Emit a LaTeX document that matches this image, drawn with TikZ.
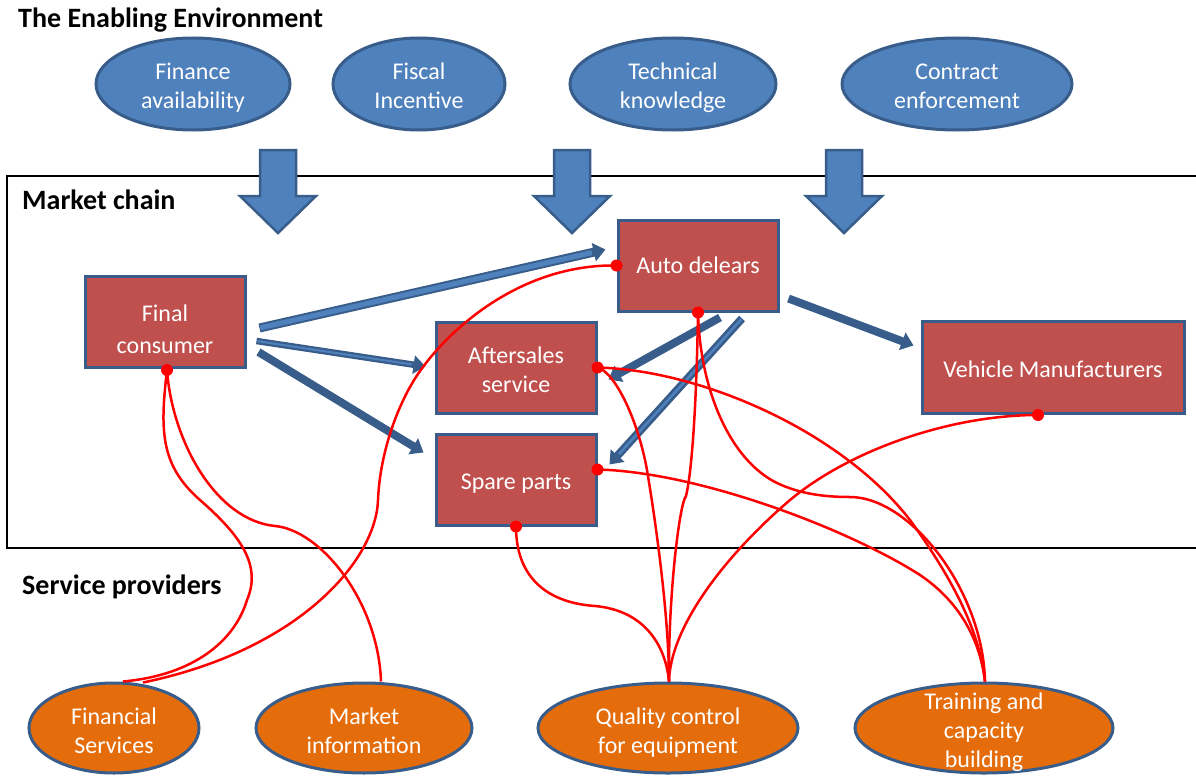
\documentclass[tikz,border=0pt]{standalone}
\usepackage{fontspec}
\setmainfont{Carlito}
\usetikzlibrary{arrows.meta,calc,shapes.geometric}
\definecolor{envblue}{HTML}{4F81BD}
\definecolor{edgeblue}{HTML}{385D8A}
\definecolor{chainred}{HTML}{C0504D}
\definecolor{provorange}{HTML}{E46C0A}
\definecolor{linkred}{HTML}{FF0000}
% fixed line height/depth so that every label sits at the same place in its shape
\newcommand\nodestrut{\rule[-7pt]{0pt}{33pt}}
% extra height on the first line of two-line labels
\newcommand\toppad{\rule{0pt}{27pt}}

\begin{document}
\begin{tikzpicture}[x=1pt,y=-1pt,
  every node/.style={font=\fontsize{24}{29}\selectfont, text=white, align=center, inner sep=0pt,
    execute at begin node=\nodestrut, execute at end node=\nodestrut},
  envell/.style={ellipse, fill=envblue, draw=edgeblue, line width=3pt, minimum height=92pt},
  provell/.style={ellipse, fill=provorange, draw=edgeblue, line width=3pt, minimum height=90pt},
  chainbox/.style={rectangle, fill=chainred, draw=edgeblue, line width=3pt, minimum height=91pt},
  heading/.style={font=\fontsize{28}{34}\selectfont\bfseries, text=black, anchor=west},
  blockarrow/.style={fill=envblue, draw=edgeblue, line width=2.5pt, line join=miter},
  flow/.style={draw=edgeblue, line width=7.5pt, -{Triangle[width=18pt,length=12pt]}},
  flowcore/.style={draw=envblue, line width=3pt, shorten >=14pt, shorten <=1pt},
  link/.style={draw=linkred, line width=2.5pt},
  dotmark/.style={fill=linkred}
]
\useasboundingbox (0,0) rectangle (1196,776);

% market chain frame (open on the right)
\draw[black, line width=1.5pt] (1196,176) -- (7,176) -- (7,548) -- (1196,548);

% section headings
\node[heading] (hEnv) at (18,18) {The Enabling Environment};
\node[heading] (hChain) at (22,200) {Market chain};
\node[heading] (hServ) at (22,585) {Service providers};

% enabling environment
\node[envell, minimum width=194pt] (fa) at (193,84) {\toppad Finance\\availability};
\node[envell, minimum width=172pt] (fi) at (419,84) {\toppad Fiscal\\Incentive};
\node[envell, minimum width=206pt] (tk) at (673,84) {\toppad Technical\\knowledge};
\node[envell, minimum width=230pt] (ce) at (957,84) {\toppad Contract\\enforcement};

% block arrows from the environment into the chain
\foreach \cx in {278,572,844}
  \draw[blockarrow] ({\cx-18},150) -- ({\cx+18},150) -- ({\cx+18},196) -- ({\cx+38},196)
    -- (\cx,233) -- ({\cx-38},196) -- ({\cx-18},196) -- cycle;

% market chain actors
\node[chainbox, minimum width=160pt,
  label={[yshift=-11pt, font=\fontsize{24}{32}\selectfont]center:Final\\consumer}] (fc) at (165,322) {};
\node[chainbox, minimum width=160pt] (ad) at (698,265.5) {\raisebox{1.5pt}{Auto delears}};
\node[chainbox, minimum width=160pt] (as) at (516,367.5) {\toppad Aftersales\\service};
\node[chainbox, minimum width=160pt] (sp) at (516,479.5) {Spare parts};
\node[chainbox, minimum width=262pt, minimum height=92pt] (vm) at (1053,367.5) {Vehicle Manufacturers};

% service providers
\node[provell, minimum width=170pt, label={[yshift=-6.5pt]center:Financial\\Services}] (fs) at (114,728) {};
\node[provell, minimum width=216pt, label={[yshift=-6.5pt]center:Market\\information}] (mi) at (364,728) {};
\node[provell, minimum width=260pt, label={[yshift=-6.5pt]center:Quality control\\for equipment}] (qc) at (668,728) {};
\node[provell, minimum width=258pt, label={[yshift=-6pt]center:Training and\\capacity\\building}] (tr) at (984,728) {};

% flows along the chain
\draw[flow, line width=9pt] ($(fc.east)+(13,6)$) -- ($(ad.west)+(-11,-16)$);
\draw[flowcore, line width=5pt] ($(fc.east)+(13,6)$) -- ($(ad.west)+(-11,-16)$);
\draw[flow, line width=6.5pt] ($(fc.east)+(10,19)$) -- ($(as.west)+(-9,-1)$);
\draw[flowcore, line width=2pt] ($(fc.east)+(10,19)$) -- ($(as.west)+(-9,-1)$);
\draw[flow, line width=8pt] ($(fc.east)+(12,30)$) -- ($(sp.west)+(-11,-27)$);
\draw[flow, line width=8pt] ($(ad.east)+(9,33)$) -- ($(vm.west)+(-7,-22)$);
\draw[flow, line width=8pt] ($(ad.south)+(22,5)$) -- ($(as.east)+(11,12)$);
\draw[flow, line width=8pt] ($(ad.south)+(44,6)$) -- ($(sp.east)+(12,-15)$);
\draw[flowcore, line width=2.5pt] ($(ad.south)+(44,6)$) -- ($(sp.east)+(12,-15)$);

% attachment points of the service links
\coordinate (fcD) at ($(fc.south)+(2,1)$);
\coordinate (adW) at (ad.west);
\coordinate (adS) at (ad.south);
\coordinate (asE) at (as.east);
\coordinate (spE) at ($(sp.east)+(0,-10)$);
\coordinate (spS) at (sp.south);
\coordinate (vmS) at ($(vm.south)+(-15,0)$);
\coordinate (fsA) at ($(fs.north)+(9,0)$);
\coordinate (fsB) at ($(fs.north)+(29,1)$);
\coordinate (miT) at ($(mi.north)+(17,0)$);
\coordinate (qcT) at ($(qc.north)+(1,0)$);
\coordinate (trT) at ($(tr.north)+(1,0)$);

% service links
\draw[link] (fcD) .. controls (160,430) and (160,465) .. (200,500)
  .. controls (240,535) and (262,565) .. (247,600)
  .. controls (235,640) and (195,675) .. (fsA);
\draw[link] (fcD) .. controls (172,440) and (215,520) .. (275,526)
  .. controls (320,530) and (378,600) .. (miT);
\draw[link] (adW) .. controls (520,264) and (450,330) .. (423,367)
  .. controls (400,397) and (380,450) .. (378,500)
  .. controls (376,560) and (300,650) .. (fsB);
\draw[link] (adS) .. controls (696,430) and (690,480) .. (686,496)
  .. controls (679,505) and (668,600) .. (qcT);
\draw[link] (adS) .. controls (700,390) and (730,460) .. (777,483)
  .. controls (800,494) and (825,497) .. (850,497)
  .. controls (910,497) and (983,590) .. (trT);
\draw[link] (asE) .. controls (615,372) and (638,420) .. (647,470)
  .. controls (657,530) and (669,620) .. (qcT);
\draw[link] (asE) .. controls (700,370) and (840,430) .. (910,520)
  .. controls (950,575) and (980,630) .. (trT);
\draw[link] (spE) .. controls (700,472) and (850,530) .. (920,575)
  .. controls (960,602) and (980,640) .. (trT);
\draw[link] (spS) .. controls (516,580) and (550,603) .. (595,606)
  .. controls (640,610) and (665,640) .. (qcT);
\draw[link] (vmS) .. controls (950,415) and (850,450) .. (790,500)
  .. controls (720,560) and (670,630) .. (qcT);

% link end dots on the chain actors
\foreach \p in {fcD,adW,adS,asE,spE,spS,vmS}
  \fill[dotmark] (\p) circle (6);
\end{tikzpicture}
\end{document}
